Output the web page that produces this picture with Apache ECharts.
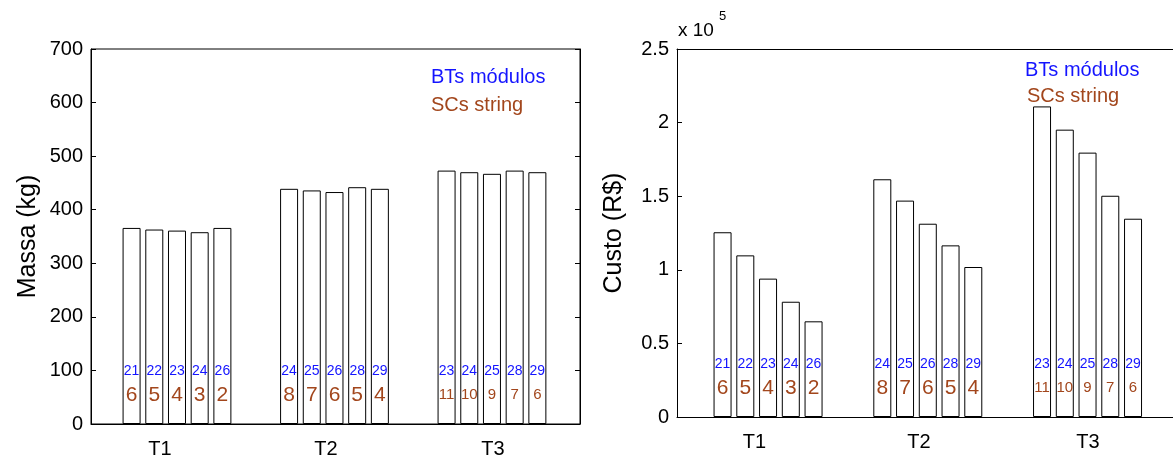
<!DOCTYPE html>
<html><head><meta charset="utf-8">
<script src="https://cdn.jsdelivr.net/npm/echarts@6/dist/echarts.min.js"></script>
<style>html,body{margin:0;padding:0;background:#fff}#c{width:1173px;height:460px}</style>
</head><body><div id="c"></div>
<script>
// ---- data ----
const categories = ['T1', 'T2', 'T3'];
const massaT1 = [366, 363, 361, 358, 366];
const massaT2 = [439, 436, 433, 442, 439];
const massaT3 = [473, 470, 467, 473, 470];
const custoT1 = [125500, 109800, 94000, 78300, 65000];
const custoT2 = [161500, 147000, 131300, 116600, 101900];
const custoT3 = [211000, 195200, 179600, 150300, 134700];
const btsT1 = [21, 22, 23, 24, 26];
const btsT2 = [24, 25, 26, 28, 29];
const btsT3 = [23, 24, 25, 28, 29];
const scsT1 = [6, 5, 4, 3, 2];
const scsT2 = [8, 7, 6, 5, 4];
const scsT3 = [11, 10, 9, 7, 6];
const massaTicks = [0, 100, 200, 300, 400, 500, 600, 700];
const custoTicks = [0, 50000, 100000, 150000, 200000, 250000];

// ---- build ----
const FONT = '"Liberation Sans", Arial, Helvetica, sans-serif';
const BLUE = '#1414ff';
const BROWN = '#a2461c';
const massa = [massaT1, massaT2, massaT3];
const custo = [custoT1, custoT2, custoT3];
const bts = [btsT1, btsT2, btsT3];
const scs = [scsT1, scsT2, scsT3];

function barData(groups, pitch) {
  const out = [];
  groups.forEach((vals, g) => vals.forEach((v, i) => out.push([g + 1 + (i - 2) * pitch, v])));
  return out;
}
function barLabelFormatter(p) {
  const g = Math.floor(p.dataIndex / 5), i = p.dataIndex % 5;
  return '{b|' + bts[g][i] + '}\n{' + (g === 2 ? 't' : 's') + '|' + scs[g][i] + '}';
}
const rich = {
  b: { color: BLUE, fontSize: 14, lineHeight: 22, fontFamily: FONT },
  s: { color: BROWN, fontSize: 21, lineHeight: 26, fontFamily: FONT },
  t: { color: BROWN, fontSize: 15, lineHeight: 26, fontFamily: FONT }
};
function barSeries(idx, groups, pitch) {
  return {
    type: 'bar', xAxisIndex: idx, yAxisIndex: idx * 2,
    data: barData(groups, pitch), barWidth: 18, silent: true,
    itemStyle: { color: '#fff', borderColor: '#000', borderWidth: 1 },
    label: { show: true, position: 'insideBottom', distance: 16, formatter: barLabelFormatter, rich: rich }
  };
}
function xAxis(idx, min, max, labelPos) {
  return {
    gridIndex: idx, type: 'value', min: min, max: max,
    axisLine: { show: true, lineStyle: { color: '#000', width: 1 } },
    axisTick: { show: false }, splitLine: { show: false },
    axisLabel: {
      customValues: labelPos, formatter: v => categories[Math.round(v) - 1],
      fontSize: 20, color: '#000', margin: 15, fontFamily: FONT
    }
  };
}
function yAxes(idx, ticks, name, fmt, mirror) {
  const base = {
    gridIndex: idx, type: 'value', min: ticks[0], max: ticks[ticks.length - 1],
    interval: ticks[1] - ticks[0], splitLine: { show: false },
    axisLine: { show: true, lineStyle: { color: '#000', width: 1 } },
    axisTick: { show: true, inside: true, length: 5, lineStyle: { color: '#000' } }
  };
  const axes = [
    Object.assign({}, base, {
      position: 'left', name: name, nameLocation: 'middle', nameGap: 50,
      nameTextStyle: { fontSize: 25, color: '#000', fontFamily: FONT },
      axisLabel: { fontSize: 20, color: '#000', margin: 8, fontFamily: FONT, formatter: fmt }
    })
  ];
  if (mirror) axes.push(Object.assign({}, base, { position: 'right', axisLabel: { show: false } }));
  return axes;
}
const txt = (text, left, top, color, size) => ({
  text: text, left: left, top: top, padding: 0,
  textStyle: { color: color, fontSize: size, fontWeight: 'normal', fontFamily: FONT }
});

const option = {
  animation: false,
  backgroundColor: '#fff',
  title: [
    txt('BTs módulos', 431, 67, BLUE, 20),
    txt('SCs string', 431, 95, BROWN, 20),
    txt('BTs módulos', 1025, 60, BLUE, 20),
    txt('SCs string', 1027, 86, BROWN, 20),
    txt('x 10', 678, 21, '#000', 19),
    txt('5', 719, 10, '#000', 13)
  ],
  grid: [
    { left: 91, top: 49, width: 489, height: 375, show: true, borderColor: '#000', borderWidth: 1 },
    { left: 677, top: 49, right: 0, height: 368 }
  ],
  xAxis: [
    xAxis(0, 0.454, 3.559, [0.892, 1.946, 3.006]),
    xAxis(1, 0.430, 3.535, [0.915, 1.945, 3.003]),
    { gridIndex: 1, type: 'value', position: 'top', min: 0.430, max: 3.535,
      axisLine: { show: true, lineStyle: { color: '#000', width: 1 } },
      axisTick: { show: false }, axisLabel: { show: false }, splitLine: { show: false } }
  ],
  yAxis: [].concat(
    yAxes(0, massaTicks, 'Massa (kg)', v => String(v), true),
    yAxes(1, custoTicks, 'Custo (R$)', v => String(v / 100000), false)
  ),
  series: [
    barSeries(0, massa, 22.7 / 157.5),
    barSeries(1, custo, 22.75 / 159.75)
  ]
};
const chart = echarts.init(document.getElementById('c'), null, { renderer: 'canvas' });
chart.setOption(option);
</script>
</body></html>
